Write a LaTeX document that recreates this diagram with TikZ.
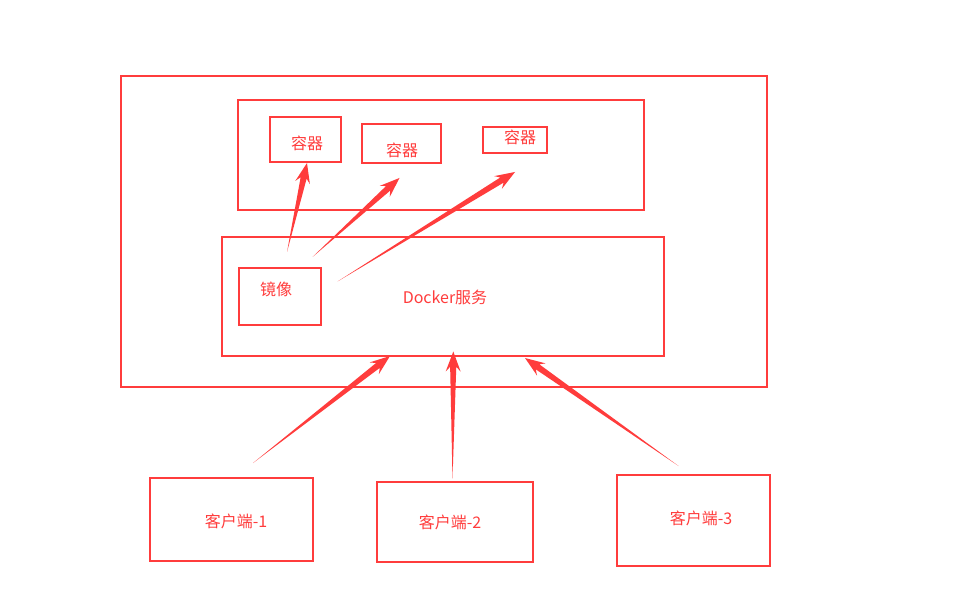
\documentclass[tikz,border=0pt]{standalone}
\usepackage{fontspec}
\setmainfont{Noto Sans CJK SC}
\usetikzlibrary{calc}
\definecolor{dred}{RGB}{255,60,60}
\tikzset{
  boxline/.style={draw=dred,line width=2.2pt},
  lbl/.style={text=dred,font=\fontsize{12}{14}\selectfont,inner sep=0pt},
}
\newcommand\taparrow[2]{%
  \fill[dred] (#1)
    -- ($ ($(#2)!11.5pt!(#1)$)!2.3pt!90:(#2) $)
    -- ($ ($(#2)!15pt!(#1)$)!5.6pt!90:(#2) $)
    -- (#2)
    -- ($ ($(#2)!15pt!(#1)$)!5.6pt!-90:(#2) $)
    -- ($ ($(#2)!11.5pt!(#1)$)!2.3pt!-90:(#2) $)
    -- cycle;}
\begin{document}
\begin{tikzpicture}[x=0.75pt,y=-0.75pt]
\useasboundingbox[fill=white] (0,0) rectangle (959,605);
% boxes
\draw[boxline] (121,76) rectangle (767,387);
\draw[boxline] (238,100) rectangle (644,210);
\draw[boxline] (270,117) rectangle (341,162);
\draw[boxline] (362,124) rectangle (441,163);
\draw[boxline] (483,127) rectangle (547,153);
\draw[boxline] (222,237) rectangle (664,356);
\draw[boxline] (239,268) rectangle (321,325);
\draw[boxline] (150,478) rectangle (313,561);
\draw[boxline] (377,482) rectangle (533,562);
\draw[boxline] (617,475) rectangle (770,566);
% labels
\node[lbl] (c1) at (307,143) {容器};
\node[lbl] (c2) at (402,150) {容器};
\node[lbl] (c3) at (520,137) {容器};
\node[lbl] (img) at (276,289) {镜像};
\node[lbl] (dk) at (445,297) {Docker服务};
\node[lbl] (k1) at (236,521) {客户端-1};
\node[lbl] (k2) at (450,522) {客户端-2};
\node[lbl] (k3) at (701,518) {客户端-3};
% arrow end points
\coordinate (a1t) at (287,252); \coordinate (a1h) at (307,163);
\coordinate (a2t) at (312.5,257); \coordinate (a2h) at (399.5,178);
\coordinate (a3t) at (337.5,281.5); \coordinate (a3h) at (515,172);
\coordinate (b1t) at (253,463); \coordinate (b1h) at (390,356);
\coordinate (b2t) at (452.5,478.5); \coordinate (b2h) at (453.3,351.5);
\coordinate (b3t) at (678.5,466); \coordinate (b3h) at (525,358);
\taparrow{a1t}{a1h}
\taparrow{a2t}{a2h}
\taparrow{a3t}{a3h}
\taparrow{b1t}{b1h}
\taparrow{b2t}{b2h}
\taparrow{b3t}{b3h}
\end{tikzpicture}
\end{document}
